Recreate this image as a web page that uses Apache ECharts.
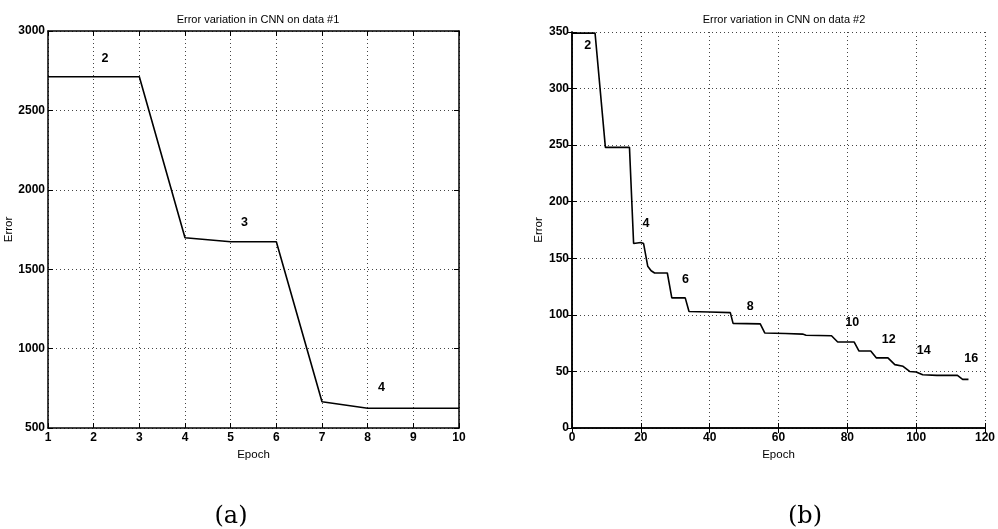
<!DOCTYPE html>
<html><head><meta charset="utf-8">
<script src="https://cdn.jsdelivr.net/npm/echarts@6/dist/echarts.min.js"></script>
<style>html,body{margin:0;padding:0;background:#fff}#c{width:998px;height:529px}</style>
</head><body><div id="c"></div>
<script>
// Panel (a)
const epochs1 = [1, 2, 3, 4, 5, 6, 7, 8, 9, 10];
const error1 = [2712, 2712, 2712, 1698, 1673, 1673, 665, 624, 624, 624];
const stageX1 = [2.25, 5.3, 8.3];
const stageY1 = [2825, 1795, 752];
const stageText1 = ['2', '3', '4'];

// Panel (b)
const epochs2 = [0, 6.7, 9.7, 16.7, 17.9, 20, 20.8, 22, 23, 24, 27.7, 29, 32.9, 34, 40, 46, 46.8, 54.7, 56, 62, 67, 68, 75.4, 77.2, 82, 83.4, 86.8, 88.4, 91.8, 93.8, 96.2, 98.1, 100, 101.9, 106, 112, 113.5, 115.2];
const error2 = [349, 349, 248, 248, 163, 164, 163, 143, 139, 137, 137, 115, 115, 103, 102.5, 102, 92.5, 92, 84, 83.5, 83, 82, 81.5, 76, 76, 68, 68, 62, 62, 56, 54.5, 50, 49.5, 47, 46.5, 46.5, 43, 43];
const stageX2 = [4.6, 21.5, 33, 51.8, 81.4, 92, 102.2, 116];
const stageY2 = [338, 181, 131.6, 107, 93, 78, 68.3, 61];
const stageText2 = ['2', '4', '6', '8', '10', '12', '14', '16'];

const titles = ['Error variation in CNN on data #1', 'Error variation in CNN on data #2'];
const panelTags = ['(a)', '(b)'];

const FONT = 'Liberation Sans, Arial, sans-serif';
const chart = echarts.init(document.getElementById('c'), null, {renderer: 'canvas'});

function pairs(xs, ys) { return xs.map((x, i) => [x, ys[i]]); }
function labelled(xs, ys, ts) { return xs.map((x, i) => ({value: [x, ys[i]], name: ts[i]})); }

const grids = [
  {left: 48, top: 31, width: 411, height: 397},
  {left: 572, top: 32, width: 415, height: 396}
];

const xCfg = [{min: 1, max: 10, interval: 1}, {min: 0, max: 120, interval: 20}];
const yCfg = [{min: 500, max: 3000, interval: 500}, {min: 0, max: 350, interval: 50}];
const yNameGap = [30, 25];

const xAxes = [], yAxes = [];
[0, 1].forEach(g => {
  xAxes.push({
    type: 'value', gridIndex: g, position: 'bottom', ...xCfg[g],
    name: 'Epoch', nameLocation: 'middle', nameGap: 20,
    nameTextStyle: {fontFamily: FONT, fontSize: 11.5, color: '#000'},
    axisLine: {lineStyle: {color: '#000', width: 1.5}},
    axisTick: {inside: true, length: 5, lineStyle: {color: '#000'}},
    axisLabel: {fontFamily: FONT, fontSize: 12, fontWeight: 'bold', color: '#000', margin: 4,
      formatter: v => String(v)},
    splitLine: {show: true, lineStyle: {type: [1, 3], color: '#444', width: 1}}
  });
  xAxes.push({
    type: 'value', gridIndex: g, position: 'top', ...xCfg[g],
    axisLine: {lineStyle: {color: '#000', width: 1.5}},
    axisTick: {inside: true, length: 5, lineStyle: {color: '#000'}},
    axisLabel: {show: false}, splitLine: {show: false}
  });
  yAxes.push({
    type: 'value', gridIndex: g, position: 'left', ...yCfg[g],
    name: 'Error', nameLocation: 'middle', nameGap: yNameGap[g],
    nameTextStyle: {fontFamily: FONT, fontSize: 11.5, color: '#000'},
    axisLine: {show: true, lineStyle: {color: '#000', width: 1.5}},
    axisTick: {show: true, inside: true, length: 5, lineStyle: {color: '#000'}},
    axisLabel: {fontFamily: FONT, fontSize: 12, fontWeight: 'bold', color: '#000', margin: 3,
      formatter: v => String(v)},
    splitLine: {show: true, lineStyle: {type: [1, 3], color: '#444', width: 1}}
  });
  yAxes.push({
    type: 'value', gridIndex: g, position: 'right', ...yCfg[g],
    axisLine: {show: true, lineStyle: {color: '#000', width: 1.5}},
    axisTick: {show: true, inside: true, length: 5, lineStyle: {color: '#000'}},
    axisLabel: {show: false}, splitLine: {show: false}
  });
});

const labelStyle = {show: true, position: 'inside', formatter: p => p.name,
  fontFamily: FONT, fontSize: 12.5, fontWeight: 'bold', color: '#000', opacity: 1, textBorderWidth: 0};

chart.setOption({
  animation: false,
  backgroundColor: '#fff',
  title: [
    {text: titles[0], left: 253, top: 9, textAlign: 'center',
     textStyle: {fontFamily: FONT, fontSize: 11, fontWeight: 'normal', color: '#000'}},
    {text: titles[1], left: 779, top: 9, textAlign: 'center',
     textStyle: {fontFamily: FONT, fontSize: 11, fontWeight: 'normal', color: '#000'}}
  ],
  grid: grids,
  xAxis: xAxes,
  yAxis: yAxes,
  series: [
    {type: 'line', xAxisIndex: 0, yAxisIndex: 0, data: pairs(epochs1, error1),
     symbol: 'none', lineStyle: {color: '#000', width: 1.6}},
    {type: 'scatter', xAxisIndex: 0, yAxisIndex: 0, data: labelled(stageX1, stageY1, stageText1),
     symbolSize: 0, itemStyle: {opacity: 1, color: '#000'}, label: labelStyle},
    {type: 'line', xAxisIndex: 2, yAxisIndex: 2, data: pairs(epochs2, error2),
     symbol: 'none', lineStyle: {color: '#000', width: 1.6}},
    {type: 'scatter', xAxisIndex: 2, yAxisIndex: 2, data: labelled(stageX2, stageY2, stageText2),
     symbolSize: 0, itemStyle: {opacity: 1, color: '#000'}, label: labelStyle}
  ],
  graphic: [
    {type: 'text', x: 231, y: 517, style: {text: panelTags[0], textAlign: 'center', textVerticalAlign: 'middle',
      font: '24px "DejaVu Serif", "Liberation Serif", serif', fill: '#000'}},
    {type: 'text', x: 805, y: 517, style: {text: panelTags[1], textAlign: 'center', textVerticalAlign: 'middle',
      font: '24px "DejaVu Serif", "Liberation Serif", serif', fill: '#000'}}
  ]
});
</script></body></html>
